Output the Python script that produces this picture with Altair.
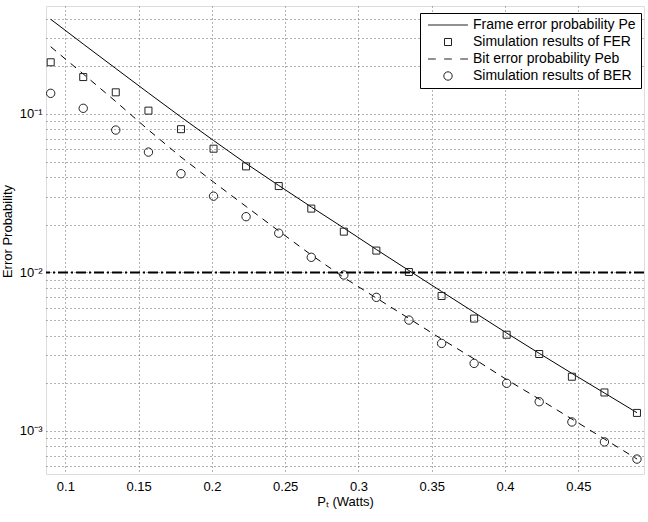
import altair as alt
import pandas as pd

# ---- data ----
p_t = [0.0900, 0.1122, 0.1344, 0.1567, 0.1789, 0.2011, 0.2233, 0.2456, 0.2678, 0.2900,
       0.3122, 0.3344, 0.3567, 0.3789, 0.4011, 0.4233, 0.4456, 0.4678, 0.4900]
pe = [0.396, 0.2764, 0.1937, 0.1357, 0.0957, 0.06804, 0.04871, 0.03539, 0.02589, 0.01909,
      0.01397, 0.01029, 0.00759, 0.00561, 0.00415, 0.00309, 0.00231, 0.001737, 0.001305]
fer = [0.212, 0.171, 0.137, 0.105, 0.0802, 0.0604, 0.0467, 0.0351, 0.0253, 0.0181,
       0.01375, 0.01007, 0.00711, 0.00512, 0.00405, 0.00306, 0.0022, 0.00175, 0.0013]
peb = [0.2658, 0.1788, 0.1199, 0.0793, 0.0535, 0.0372, 0.0261, 0.01828, 0.0129, 0.0093,
       0.0069, 0.00513, 0.0038, 0.00285, 0.00211, 0.00159, 0.00119, 0.00089, 0.000666]
ber = [0.135, 0.1086, 0.0792, 0.0575, 0.042, 0.0303, 0.0225, 0.0177, 0.01247, 0.00964,
       0.00697, 0.00501, 0.00357, 0.00267, 0.0020, 0.00153, 0.00114, 0.000853, 0.000665]
threshold = [0.01]

series_names = ["Frame error probability Pe", "Simulation results of FER",
                "Bit error probability Peb", "Simulation results of BER"]

x_ticks = [0.1, 0.15, 0.2, 0.25, 0.3, 0.35, 0.4, 0.45]
y_grid = [6e-4, 7e-4, 8e-4, 9e-4,
          1e-3, 2e-3, 3e-3, 4e-3, 5e-3, 6e-3, 7e-3, 8e-3, 9e-3,
          1e-2, 2e-2, 3e-2, 4e-2, 5e-2, 6e-2, 7e-2, 8e-2, 9e-2,
          0.1, 0.2, 0.3, 0.4]
x_domain = [0.0868, 0.4948]
y_domain = [5.354e-4, 0.4801]

# ---- tables ----
df_pe = pd.DataFrame({"x": p_t, "y": pe})
df_peb = pd.DataFrame({"x": p_t, "y": peb})
df_pts = pd.concat([
    pd.DataFrame({"x": p_t, "y": fer, "series": series_names[1]}),
    pd.DataFrame({"x": p_t, "y": ber, "series": series_names[3]}),
])
df_thr = pd.DataFrame({"y": threshold})

FONT = "Liberation Sans"

xs = alt.Scale(domain=x_domain, nice=False, zero=False)
ys = alt.Scale(type="log", domain=y_domain, nice=False)

x_axis = alt.Axis(values=x_ticks, format="~g", grid=True, gridDash=[1, 3], gridColor="#666",
                  gridWidth=1, ticks=False, domain=False, labelFont=FONT, labelFontSize=13,
                  labelColor="black", labelPadding=6, title="Pₜ (Watts)", titleFont=FONT,
                  titleFontSize=13, titleFontWeight="normal", titleColor="black",
                  titleX=299, titleY=31, titleBaseline="alphabetic")
y_axis = alt.Axis(values=y_grid, grid=True, gridDash=[1, 3], gridColor="#666", gridWidth=1,
                  ticks=False, domain=False, labelFont=FONT, labelFontSize=13, labelColor="black",
                  labelPadding=4,
                  labelExpr="datum.value == 0.1 ? '10⁻¹' : datum.value == 0.01 ? '10⁻²' : datum.value == 0.001 ? '10⁻³' : ''",
                  title="Error Probability", titleFont=FONT, titleFontSize=13,
                  titleFontWeight="normal", titleColor="black", titleAngle=270,
                  titleX=-35, titleY=225, titleBaseline="alphabetic", titleAlign="center")

line_pe = alt.Chart(df_pe).mark_line(color="black", strokeWidth=1).encode(
    x=alt.X("x:Q", scale=xs, axis=x_axis),
    y=alt.Y("y:Q", scale=ys, axis=y_axis),
)
line_peb = alt.Chart(df_peb).mark_line(color="black", strokeWidth=1, strokeDash=[7, 6]).encode(
    x=alt.X("x:Q"), y=alt.Y("y:Q"),
)

shape_scale = alt.Scale(
    domain=series_names,
    range=["M-5.7,0H5.7", "square", "M-5.7,0H-3.5M-1.1,0H1.1M3.5,0H5.7",
           "M1.2,0A1.2,1.2,0,1,1,-1.2,0A1.2,1.2,0,1,1,1.2,0Z"],
)
points = alt.Chart(df_pts).mark_point(filled=False, color="#222", strokeWidth=1, size=49,
                                      opacity=1).encode(
    x=alt.X("x:Q"), y=alt.Y("y:Q"),
    shape=alt.Shape("series:N", scale=shape_scale, legend=alt.Legend(
        title=None, orient="none", legendX=374, legendY=7, fillColor="white",
        strokeColor="black", padding=5, labelFont=FONT, labelFontSize=14, labelColor="black",
        symbolStrokeColor="#222", symbolFillColor="transparent", symbolStrokeWidth=1,
        symbolSize=49, symbolOffset=16, labelOffset=18, rowPadding=3, symbolOpacity=1,
        labelLimit=400)),
)

thr = alt.Chart(df_thr).mark_rule(color="black", strokeWidth=2, strokeDash=[10, 3, 2, 3]).encode(
    y=alt.Y("y:Q"),
)

chart = alt.layer(line_pe, line_peb, points, thr).properties(
    width=598, height=468,
    autosize=alt.AutoSizeParams(type="none"),
    padding={"left": 46, "top": 6, "right": 4, "bottom": 48},
).configure_view(stroke="black", strokeWidth=1).configure(background="white")

chart.save("out.html", embed_options={"renderer": "svg", "actions": False})
